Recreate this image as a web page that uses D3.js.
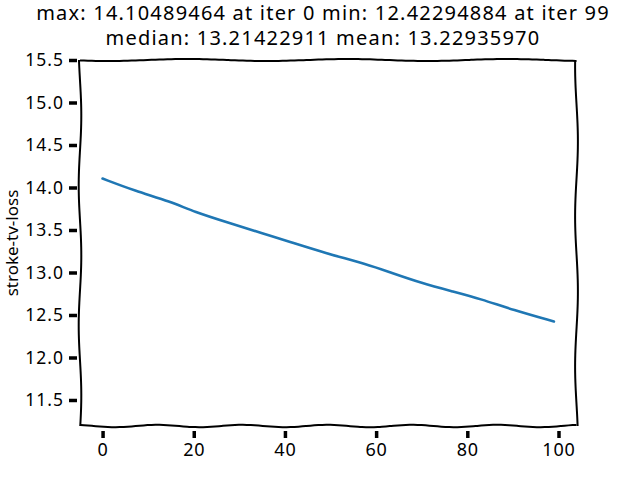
<!DOCTYPE html>
<html>
<head>
<meta charset="utf-8">
<script src="https://cdn.jsdelivr.net/npm/d3@7"></script>
<style>
  body { margin: 0; background: #fff; }
  text { font-family: "Noto Sans", sans-serif; fill: #000; }
</style>
</head>
<body>
<div id="chart"></div>
<script>
// values
const iters = [0, 7, 15, 20, 28, 35, 41, 49, 58, 63, 70, 77, 83, 90, 99];
const losses = [14.105, 13.962, 13.833, 13.715, 13.579, 13.461, 13.362, 13.226, 13.096, 13.002, 12.873, 12.774, 12.688, 12.559, 12.423];
const xTicks = [0, 20, 40, 60, 80, 100];
const yTicks = [11.5, 12.0, 12.5, 13.0, 13.5, 14.0, 14.5, 15.0, 15.5];
const titleLines = ["max: 14.10489464 at iter 0 min: 12.42294884 at iter 99",
                    "median: 13.21422911 mean: 13.22935970"];
const yLabel = "stroke-tv-loss";

const width = 640, height = 480;
const padLeft = 80, padRight = 576.5, padTop = 60, padBottom = 426;

const svg = d3.select('#chart')
    .append('svg')
    .attr('width', width)
    .attr('height', height);

const x = d3.scaleLinear().domain([-4.95, 103.95]).range([padLeft, padRight]);
const y = d3.scaleLinear().domain([11.194, 15.5]).range([padBottom, padTop]);

// hand drawn looking border
function wobble(x0, y0, x1, y1, amp, wave, phase) {
  const len = Math.hypot(x1 - x0, y1 - y0);
  const n = Math.ceil(len / 4);
  const nx = -(y1 - y0) / len, ny = (x1 - x0) / len;
  const pts = [];
  for (let k = 0; k <= n; k++) {
    const t = k / n;
    const o = amp * Math.sin(t * len / wave * 2 * Math.PI + phase);
    pts.push([x0 + (x1 - x0) * t + nx * o, y0 + (y1 - y0) * t + ny * o]);
  }
  return pts;
}
const edge = d3.line().curve(d3.curveBasis);
const sides = [
  wobble(padLeft, padTop, padRight, padTop, 1.0, 160, 0.5),
  wobble(padRight, padTop, padRight, padBottom, 1.4, 150, 1.3),
  wobble(padRight, padBottom, padLeft, padBottom, 1.2, 85, 2.0),
  wobble(padLeft, padBottom, padLeft, padTop, 1.3, 140, 0.2)
];
svg.selectAll('path.spine')
    .data(sides)
    .enter()
    .append('path')
    .attr('class', 'spine')
    .attr('d', d => edge(d))
    .attr('fill', 'none')
    .attr('stroke', '#000')
    .attr('stroke-width', 2);

// x axis
const xAxis = svg.append('g').attr('transform', `translate(0,${padBottom + 5})`)
    .call(d3.axisBottom(x).tickValues(xTicks).tickSize(7).tickPadding(5).tickFormat(d3.format('d')));
xAxis.select('.domain').remove();
xAxis.selectAll('.tick line').attr('stroke-width', 3.5);
xAxis.selectAll('.tick text').style('font-size', '18px').style('letter-spacing', '0.8px');

// y axis
const yAxis = svg.append('g').attr('transform', `translate(${padLeft - 3},0)`)
    .call(d3.axisLeft(y).tickValues(yTicks).tickSize(8).tickPadding(5).tickFormat(d3.format('.1f')));
yAxis.select('.domain').remove();
yAxis.selectAll('.tick line').attr('stroke-width', 3.5);
yAxis.selectAll('.tick text').style('font-size', '17.5px').style('letter-spacing', '1px');

// data line
const line = d3.line()
    .x((d, i) => x(iters[i]))
    .y(d => y(d))
    .curve(d3.curveBasis);
svg.append('path')
    .datum(losses)
    .attr('d', line)
    .attr('fill', 'none')
    .attr('stroke', '#1f77b4')
    .attr('stroke-width', 2.6)
    .attr('stroke-linecap', 'round');

// title
svg.selectAll('text.title')
    .data(titleLines)
    .enter()
    .append('text')
    .attr('class', 'title')
    .attr('x', 323)
    .attr('y', (d, i) => 20 + i * 25)
    .attr('text-anchor', 'middle')
    .style('font-size', '20px')
    .style('letter-spacing', '1.2px')
    .text(d => d);

// y label
svg.append('text')
    .attr('transform', `translate(18,${(padTop + padBottom) / 2}) rotate(-90)`)
    .attr('text-anchor', 'middle')
    .style('font-size', '17px')
    .text(yLabel);
</script>
</body>
</html>
